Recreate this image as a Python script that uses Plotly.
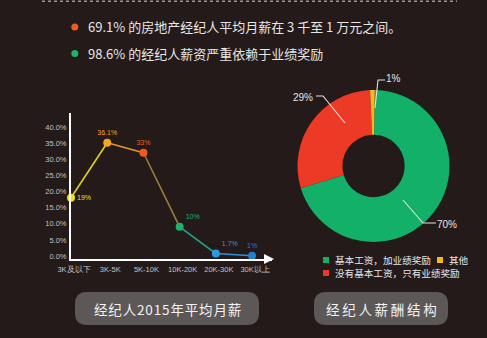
import plotly.graph_objects as go

# ---- data ----
salary_bands = ["3K及以下", "3K-5K", "5K-10K", "10K-20K", "20K-30K", "30K以上"]
salary_share = [19, 36.1, 33, 10, 1.7, 1]
salary_labels = ["19%", "36.1%", "33%", "10%", "1.7%", "1%"]
point_colors = ["#f2e01a", "#f5a623", "#f05a22", "#1db36b", "#2a9be0", "#1f7fd0"]
segment_colors = ["#e2cf22", "#e8962c", "#9c7f3c", "#2aa68c", "#2b93d6"]

pay_types = ["基本工资，加业绩奖励", "没有基本工资，只有业绩奖励", "其他"]
pay_share = [70, 29, 1]
pay_colors = ["#13b06a", "#ec3a26", "#f7b722"]

y_ticks = [0, 5, 10, 15, 20, 25, 30, 35, 40]

headline_1 = "69.1% 的房地产经纪人平均月薪在 3 千至 1 万元之间。"
headline_2 = "98.6% 的经纪人薪资严重依赖于业绩奖励"
button_1 = "经纪人2015年平均月薪"
button_2 = "经纪人薪酬结构"

W, H = 487, 338
BG = "#231a19"
CJK = "Noto Sans CJK SC, sans-serif"


def px(x):
    return x / W


def py(y):
    return 1 - y / H


fig = go.Figure()

# line chart: one coloured segment between each pair of neighbouring points
for i in range(len(salary_bands) - 1):
    fig.add_trace(go.Scatter(
        x=salary_bands[i:i + 2], y=salary_share[i:i + 2], mode="lines",
        line=dict(color=segment_colors[i], width=1.6),
        hoverinfo="skip", showlegend=False, cliponaxis=False,
    ))

fig.add_trace(go.Scatter(
    x=salary_bands, y=salary_share, mode="markers+text",
    marker=dict(color=point_colors, size=8),
    text=salary_labels,
    textposition=["middle right", "top center", "top center",
                  "top right", "top right", "top center"],
    textfont=dict(color=point_colors, size=7, family="Liberation Sans, Arial"),
    showlegend=False, cliponaxis=False,
))

# donut chart
fig.add_trace(go.Pie(
    labels=pay_types, values=pay_share, hole=0.41, sort=False,
    direction="clockwise", rotation=1,
    marker=dict(colors=pay_colors, line=dict(width=0)),
    textinfo="none", showlegend=False,
    domain=dict(x=[px(297.5), px(449.5)], y=[py(242), py(90)]),
))

fig.update_xaxes(
    domain=[px(71), px(272)], type="category", range=[0, 5.55],
    showline=True, linecolor="#ffffff", linewidth=2,
    showgrid=False, zeroline=False, ticks="", automargin=False,
    tickfont=dict(color="#c4c4c4", size=7.5, family="Liberation Sans, Arial"),
    ticklabelshift=3, ticklabelstandoff=2, fixedrange=True,
)
fig.update_yaxes(
    domain=[py(259), py(112.5)], range=[0, 45.5],
    showline=True, linecolor="#ffffff", linewidth=2,
    showgrid=False, zeroline=False, ticks="", automargin=False,
    tickvals=y_ticks, ticktext=[f"{v:.1f}%" for v in y_ticks],
    tickfont=dict(color="#c4c4c4", size=7.5, family="Liberation Sans, Arial"),
    ticklabelstandoff=1, ticklabelshift=-3,
)

shapes = []
annotations = []


def note(x, y, text, size, color="#e8e6e6", family=CJK, xanchor="center"):
    annotations.append(dict(xref="paper", yref="paper", x=px(x), y=py(y),
                            xanchor=xanchor, yanchor="middle", showarrow=False,
                            text=text, font=dict(color=color, size=size, family=family)))


# dotted rule along the top edge
shapes.append(dict(type="line", xref="paper", yref="paper",
                   x0=px(42), x1=px(457), y0=py(1.2), y1=py(1.2),
                   line=dict(color="#9a9696", width=1.6, dash="dot")))

# headline bullets
for yy, col, txt in [(27, "#f05a22", headline_1), (53.5, "#1db36b", headline_2)]:
    shapes.append(dict(type="circle", xref="paper", yref="paper",
                       x0=px(71.3), x1=px(78.3), y0=py(yy + 3.5), y1=py(yy - 3.5),
                       fillcolor=col, line=dict(width=0)))
    note(86, yy, txt, 13, xanchor="left")

# arrow head on the x axis
annotations.append(dict(xref="paper", yref="paper", x=px(274), y=py(259),
                        ax=-10, ay=0, showarrow=True, arrowhead=2, arrowsize=1,
                        arrowwidth=2, arrowcolor="#ffffff", text=""))

# donut value labels with leader lines
leaders = [
    ([(403, 200), (423, 223), (436, 223)], (447, 224), 0),
    ([(345, 123), (323, 96), (316, 96)], (303, 97), 1),
    ([(375, 108), (378, 80), (385, 80)], (393, 78), 2),
]
for pts, (lx, ly), k in leaders:
    path = "M " + " L ".join(f"{px(x):.5f} {py(y):.5f}" for x, y in pts)
    shapes.append(dict(type="path", xref="paper", yref="paper", path=path,
                       line=dict(color="#e6e2e0", width=1.1)))
    note(lx, ly, f"{pay_share[k]}%", 10, family="Liberation Sans, Arial")

# donut legend
legend_rows = [(323, 260, 0), (437, 260, 2), (323, 273, 1)]
for lx, ly, k in legend_rows:
    shapes.append(dict(type="rect", xref="paper", yref="paper",
                       x0=px(lx), x1=px(lx + 6), y0=py(ly + 3), y1=py(ly - 3),
                       fillcolor=pay_colors[k], line=dict(width=0)))
    note(lx + 9.5, ly, pay_types[k], 9.6, xanchor="left")


def rounded_rect(x0, y0, x1, y1, r):
    p = [
        ("M", x0 + r, y0), ("L", x1 - r, y0), ("Q", x1, y0, x1, y0 + r),
        ("L", x1, y1 - r), ("Q", x1, y1, x1 - r, y1), ("L", x0 + r, y1),
        ("Q", x0, y1, x0, y1 - r), ("L", x0, y0 + r), ("Q", x0, y0, x0 + r, y0),
    ]
    out = []
    for seg in p:
        cmd, vals = seg[0], seg[1:]
        nums = []
        for i in range(0, len(vals), 2):
            nums += [f"{px(vals[i]):.5f}", f"{py(vals[i + 1]):.5f}"]
        out.append(cmd + " " + " ".join(nums))
    return " ".join(out) + " Z"


# button captions, with a little extra spacing between the glyphs
for (x0, x1), label, gap in [((75, 259), button_1, "\u200a"),
                             ((314, 448), button_2, "\u2009")]:
    shapes.append(dict(type="path", xref="paper", yref="paper",
                       path=rounded_rect(x0, 292, x1, 325, 12),
                       fillcolor="#5c5858", line=dict(width=0)))
    note((x0 + x1) / 2, 308.5, gap.join(label), 13.5, color="#f4f2f2")

fig.update_layout(
    width=W, height=H, autosize=False,
    margin=dict(l=0, r=0, t=0, b=0, pad=0),
    paper_bgcolor=BG, plot_bgcolor=BG,
    shapes=shapes, annotations=annotations,
)

fig.write_html("out.html")
